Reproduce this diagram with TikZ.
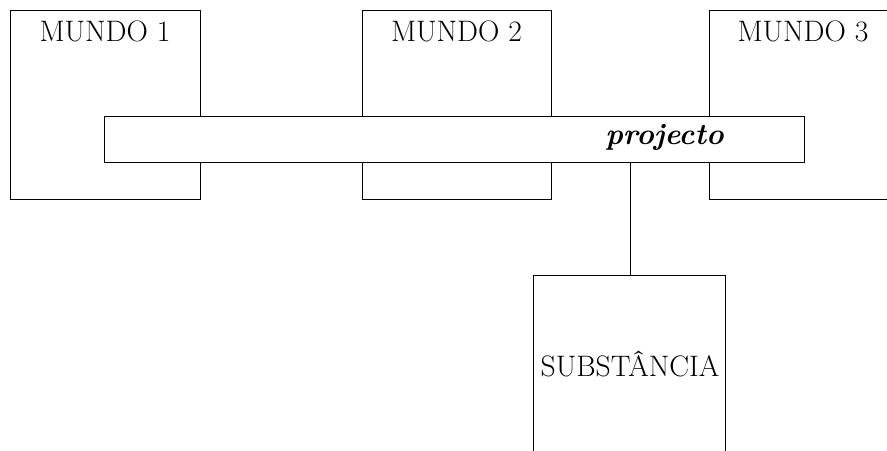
\documentclass[tikz,border=0pt]{standalone}
\begin{document}
\begin{tikzpicture}[x=0.75pt,y=-0.75pt,
  box/.style={draw=black, line width=0.75pt, fill=white, inner sep=0pt, rectangle},
  txt/.style={inner sep=0pt, anchor=base, font=\fontsize{22.2}{26}\selectfont},
  conn/.style={draw=black, line width=0.75pt}]
\useasboundingbox (0,0) rectangle (887,450);
\clip (0,0) rectangle (887,450);
\node[box, minimum width=190*0.75pt, minimum height=189*0.75pt] (m1) at (105,104.5) {};
\node[box, minimum width=189*0.75pt, minimum height=189*0.75pt] (m2) at (456.5,104.5) {};
\node[box, minimum width=188*0.75pt, minimum height=189*0.75pt] (m3) at (803,104.5) {};
\node[box, minimum width=700*0.75pt, minimum height=46*0.75pt] (bar) at (454,139) {};
\node[box, minimum width=192*0.75pt, minimum height=200*0.75pt] (sub) at (629,375) {};
\coordinate (cx) at (630,0);
\draw[conn] (bar.south -| cx) -- (sub.north -| cx);
\node[txt] (t1) at (105,41) {MUNDO 1};
\node[txt] (t2) at (456.5,41) {MUNDO 2};
\node[txt] (t3) at (803,41) {MUNDO 3};
\node[txt, font=\fontsize{22.4}{26}\selectfont\bfseries\itshape] (tp) at (664.5,144) {projecto};
\node[txt] (ts) at (630,376) {SUBSTÂNCIA};
\end{tikzpicture}
\end{document}
